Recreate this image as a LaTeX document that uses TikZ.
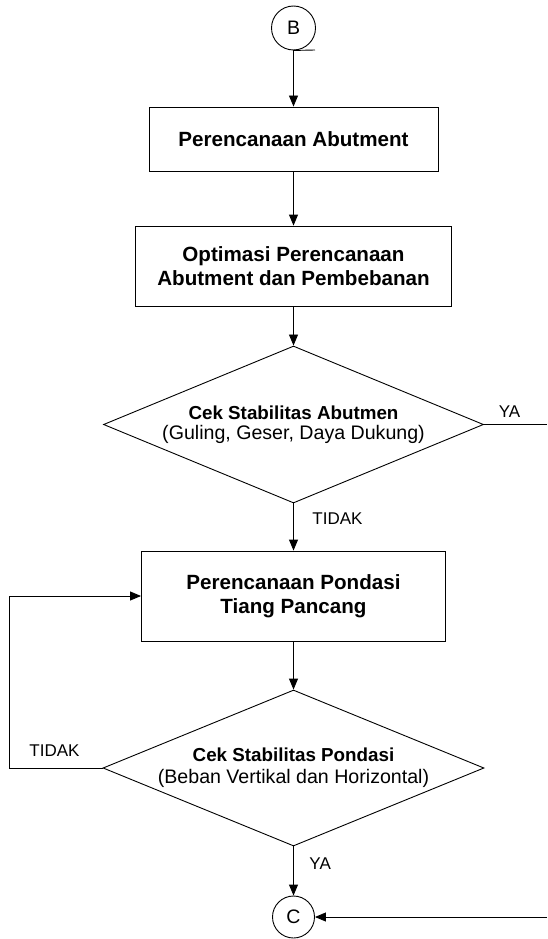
\documentclass[tikz,border=0pt]{standalone}
\usepackage{fontspec}
\setmainfont{Liberation Sans}
\usetikzlibrary{arrows.meta,shapes.geometric}
\begin{document}
\begin{tikzpicture}[x=1pt,y=-1pt, line width=0.9pt,
  >={Triangle[length=11pt,width=9pt]},
  procbox/.style={draw, rectangle, inner sep=0pt, align=center, font=\fontsize{20.6}{24}\selectfont\bfseries},
  decbox/.style={draw, diamond, aspect=2.42, inner sep=0pt, align=center},
  conn/.style={draw, circle, inner sep=0pt, font=\fontsize{19.5}{22}\selectfont},
  lbl/.style={font=\fontsize{17}{18}\selectfont, inner sep=0pt},
  dbold/.style={font=\fontsize{18.8}{19}\selectfont\bfseries},
  dreg/.style={font=\fontsize{19.6}{19}\selectfont}]
\useasboundingbox (0,0) rectangle (547,939);
\node[conn, minimum size=44pt] (B) at (293.5,28) {B};
\node[procbox, minimum width=289pt, minimum height=64pt] (p1) at (293.5,139) {Perencanaan Abutment};
\node[procbox, minimum width=316pt, minimum height=80pt] (p2) at (293.5,266) {Optimasi Perencanaan\\Abutment dan Pembebanan};
\node[decbox, minimum width=380pt, minimum height=157pt, font=\fontsize{19}{19.5}\selectfont] (d1) at (293.5,424.5) {{\fontsize{18.8}{19.5}\selectfont\bfseries Cek Stabilitas Abutmen}\\{\fontsize{19.6}{19.5}\selectfont(Guling, Geser, Daya Dukung)}};
\node[procbox, minimum width=304pt, minimum height=90pt] (p3) at (293.5,596) {Perencanaan Pondasi\\Tiang Pancang};
\node[decbox, minimum width=381pt, minimum height=156pt, font=\fontsize{19}{22}\selectfont] (d2) at (293.5,768) {{\fontsize{18.8}{22}\selectfont\bfseries Cek Stabilitas Pondasi}\\{\fontsize{19.6}{22}\selectfont(Beban Vertikal dan Horizontal)}};
\node[conn, minimum size=42pt] (C) at (293.5,917) {C};

\coordinate (btail) at (315,50);
\coordinate (yaend) at (547,424.5);
\coordinate (cin) at (547,917);
\coordinate (loopcorner) at (9,768);

\draw (B.south) -- (btail);
\draw[->] (B) -- (p1);
\draw[->] (p1) -- (p2);
\draw[->] (p2) -- (d1);
\draw[->] (d1) -- (p3);
\draw (d1.east) -- (yaend);
\draw[->] (p3) -- (d2);
\draw[->] (d2.west) -- (loopcorner) |- (p3.west);
\draw[->] (d2) -- (C);
\draw[->] (cin) -- (C.east);

\node[lbl] (ya1) at (509.5,412) {YA};
\node[lbl, anchor=west] (t1) at (312,519) {TIDAK};
\node[lbl, anchor=west] (t2) at (29,751) {TIDAK};
\node[lbl, anchor=west] (ya2) at (309,864) {YA};
\end{tikzpicture}
\end{document}
